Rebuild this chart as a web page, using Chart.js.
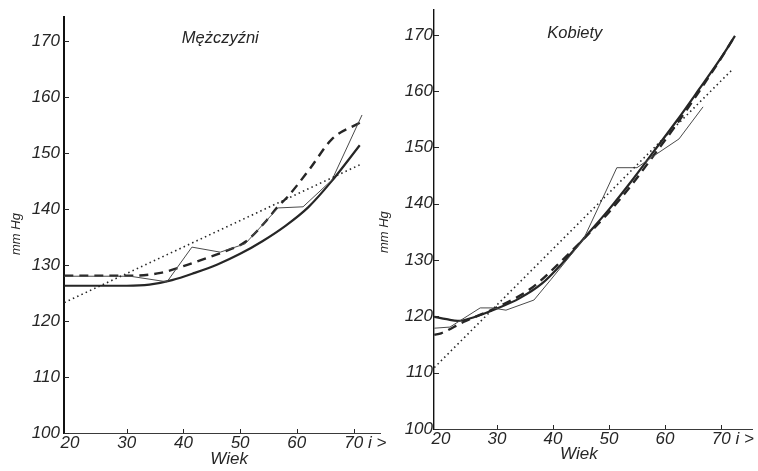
<!DOCTYPE html>
<html>
<head>
<meta charset="utf-8">
<script src="https://cdn.jsdelivr.net/npm/chart.js@4.4.1/dist/chart.umd.min.js"></script>
<style>
  html, body { margin: 0; padding: 0; background: #fff; }
  body { width: 758px; height: 471px; position: relative; overflow: hidden; }
  canvas { position: absolute; top: 0; }
  #men { left: 0; }
  #women { left: 370px; }
</style>
</head>
<body>
<canvas id="men" width="400" height="471"></canvas>
<canvas id="women" width="388" height="471"></canvas>
<script>
// Axis ticks
const ageTicks = [20, 30, 40, 50, 60, 70];
const ageTickLabels = ['20', '30', '40', '50', '60', '70 i >'];
const bpTicks = [100, 110, 120, 130, 140, 150, 160, 170];

// Mężczyźni — averages by age group (thin line)
const menRawAge = [19, 30.6, 37.1, 41.5, 46.5, 50.9, 54.7, 56.7, 61.1, 66.2, 71.5];
const menRawBp  = [128, 128, 127, 133.2, 132.3, 133.8, 138, 140.2, 140.4, 145.2, 156.8];
// Mężczyźni — smoothed curve (thick solid)
const menCurveAge = [19, 30, 34, 38, 42, 46, 50, 54, 58, 62, 66, 71.1];
const menCurveBp  = [126.3, 126.3, 126.5, 127.3, 128.6, 130.1, 132.0, 134.3, 137.0, 140.3, 144.8, 151.4];
// Mężczyźni — second curve (thick dashed)
const menDashAge = [19, 31, 36, 40, 44, 47, 51, 54.7, 56.6, 58.3, 62.3, 66.2, 71.1];
const menDashBp  = [128.1, 128.1, 128.6, 129.8, 131.2, 132.3, 134.2, 138.0, 140.4, 142.1, 147.2, 152.5, 155.4];
// Mężczyźni — straight-line trend (dotted)
const menTrendAge = [19, 71.1];
const menTrendBp  = [123.3, 147.9];

// Kobiety — averages by age group (thin line)
const womenRawAge = [18.8, 21.6, 27, 29.1, 31.6, 36.6, 39.6, 45.4, 49.3, 51.4, 55, 58, 62.5, 66.8];
const womenRawBp  = [117.9, 118.1, 121.5, 121.5, 121.1, 122.9, 126.5, 133.6, 141.9, 146.4, 146.4, 148.5, 151.5, 157.2];
// Kobiety — smoothed curve (thick solid)
const womenCurveAge = [18.8, 21, 23, 26, 30, 34, 38, 42, 46, 50, 54, 58, 62, 66, 70, 72.5];
const womenCurveBp  = [119.9, 119.5, 119.2, 119.9, 121.4, 123.2, 125.8, 129.8, 134.4, 139.0, 144.0, 149.3, 154.6, 160.2, 165.9, 169.8];
// Kobiety — second curve (thick dashed)
const womenDashAge = [18.8, 20, 24, 30, 36, 42, 46, 50, 54, 58, 62, 66, 70, 72.5];
const womenDashBp  = [116.7, 117.0, 119.0, 121.6, 124.9, 130.3, 134.3, 138.5, 143.3, 148.6, 154.0, 159.8, 165.8, 169.8];
// Kobiety — straight-line trend (dotted)
const womenTrendAge = [18.8, 72];
const womenTrendBp  = [110.9, 163.8];

const INK = '#262626';
const FONT = "'Liberation Sans', Arial, sans-serif";

function points(ages, values) {
  return ages.map((a, i) => ({ x: a, y: values[i] }));
}

// short inward tick marks on both axes, plus the panel heading inside the plot
const panelDecor = {
  id: 'panelDecor',
  afterDraw(chart, args, opts) {
    const { ctx, scales: { x, y } } = chart;
    ctx.save();
    ctx.strokeStyle = INK;
    ctx.lineWidth = 1;
    y.ticks.forEach(t => {
      const py = Math.round(y.getPixelForValue(t.value)) + 0.5;
      ctx.beginPath();
      ctx.moveTo(x.left, py);
      ctx.lineTo(x.left + 5, py);
      ctx.stroke();
    });
    x.ticks.forEach(t => {
      if (t.value === ageTicks[0]) return;
      const px = Math.round(x.getPixelForValue(t.value)) + 0.5;
      ctx.beginPath();
      ctx.moveTo(px, y.bottom);
      ctx.lineTo(px, y.bottom - 4);
      ctx.stroke();
    });
    ctx.font = 'italic 16.5px ' + FONT;
    ctx.fillStyle = INK;
    ctx.textAlign = 'center';
    ctx.textBaseline = 'middle';
    ctx.fillText(opts.title, x.getPixelForValue(opts.titleAge), y.getPixelForValue(opts.titleBp));
    ctx.restore();
  }
};

function makePanel(id, p) {
  const datasets = [
    { data: points(p.trendAge, p.trendBp), borderColor: INK, borderWidth: 1.6, borderDash: [1.5, 3.2], tension: 0 },
    { data: points(p.rawAge, p.rawBp), borderColor: '#4a4a4a', borderWidth: 1, tension: 0 },
    { data: points(p.dashAge, p.dashBp), borderColor: INK, borderWidth: 2.4, borderDash: [9, 6], cubicInterpolationMode: 'monotone' },
    { data: points(p.curveAge, p.curveBp), borderColor: INK, borderWidth: 2.2, cubicInterpolationMode: 'monotone' }
  ];
  return new Chart(document.getElementById(id), {
    type: 'line',
    data: { datasets },
    plugins: [panelDecor],
    options: {
      responsive: false,
      animation: false,
      devicePixelRatio: 1,
      layout: { padding: p.padding },
      elements: { point: { radius: 0 } },
      plugins: {
        legend: { display: false },
        tooltip: { enabled: false },
        panelDecor: { title: p.title, titleAge: p.titleAge, titleBp: p.titleBp }
      },
      scales: {
        x: {
          type: 'linear',
          min: p.xMin, max: p.xMax,
          grid: { display: false, drawTicks: false },
          border: { display: true, color: '#3a3a3a', width: 1 },
          afterBuildTicks: s => { s.ticks = ageTicks.map(v => ({ value: v })); },
          afterFit: s => { s.height = p.xHeight; s.paddingLeft = 0; s.paddingRight = 0; },
          ticks: {
            autoSkip: false, maxRotation: 0, padding: 0,
            color: INK, font: { family: FONT, size: 17, style: 'italic' },
            callback: v => {
              const label = ageTickLabels[ageTicks.indexOf(v)];
              return label.length > 2 ? '\u00a0'.repeat(5) + label : label;
            }
          },
          title: {
            display: true, text: p.xTitle, color: INK,
            font: { family: FONT, size: 17, style: 'italic' },
            padding: { top: 0, bottom: p.xTitlePad }
          }
        },
        y: {
          type: 'linear',
          min: 100, max: p.yMax,
          grid: { display: false, drawTicks: false },
          border: { display: true, color: '#111', width: p.yAxisWidth },
          afterBuildTicks: s => { s.ticks = bpTicks.map(v => ({ value: v })); },
          afterFit: s => { s.width = 64; s.paddingTop = 0; s.paddingBottom = 0; },
          ticks: {
            padding: p.yTickPad,
            color: INK, font: { family: FONT, size: 17, style: 'italic' }
          },
          title: {
            display: true, text: p.yTitle, color: INK,
            font: { family: FONT, size: 13, style: 'italic' },
            padding: { top: p.yTitlePad, bottom: 0 }
          }
        }
      }
    }
  });
}

makePanel('men', {
  title: 'Mężczyźni', titleAge: 46.5, titleBp: 170.5,
  rawAge: menRawAge, rawBp: menRawBp,
  curveAge: menCurveAge, curveBp: menCurveBp,
  dashAge: menDashAge, dashBp: menDashBp,
  trendAge: menTrendAge, trendBp: menTrendBp,
  xMin: 18.94, xMax: 74.67, yMax: 174.3,
  padding: { top: 17, right: 20, bottom: 0, left: 0 },
  xHeight: 38, xTitle: '\u00a0\u00a0\u00a0Wiek', xTitlePad: 2,
  yTitle: 'mm Hg' + '\u00a0'.repeat(5), yTitlePad: 9, yTickPad: 4, yAxisWidth: 2
});

makePanel('women', {
  title: 'Kobiety', titleAge: 43.9, titleBp: 170.3,
  rawAge: womenRawAge, rawBp: womenRawBp,
  curveAge: womenCurveAge, curveBp: womenCurveBp,
  dashAge: womenDashAge, dashBp: womenDashBp,
  trendAge: womenTrendAge, trendBp: womenTrendBp,
  xMin: 18.75, xMax: 75.54, yMax: 174.4,
  padding: { top: 10, right: 6, bottom: 0, left: 0 },
  xHeight: 42, xTitle: 'Wiek' + '\u00a0'.repeat(6), xTitlePad: 7,
  yTitle: 'mm Hg' + '\u00a0'.repeat(7), yTitlePad: 7, yTickPad: 1, yAxisWidth: 1.4
});
</script>
</body>
</html>
